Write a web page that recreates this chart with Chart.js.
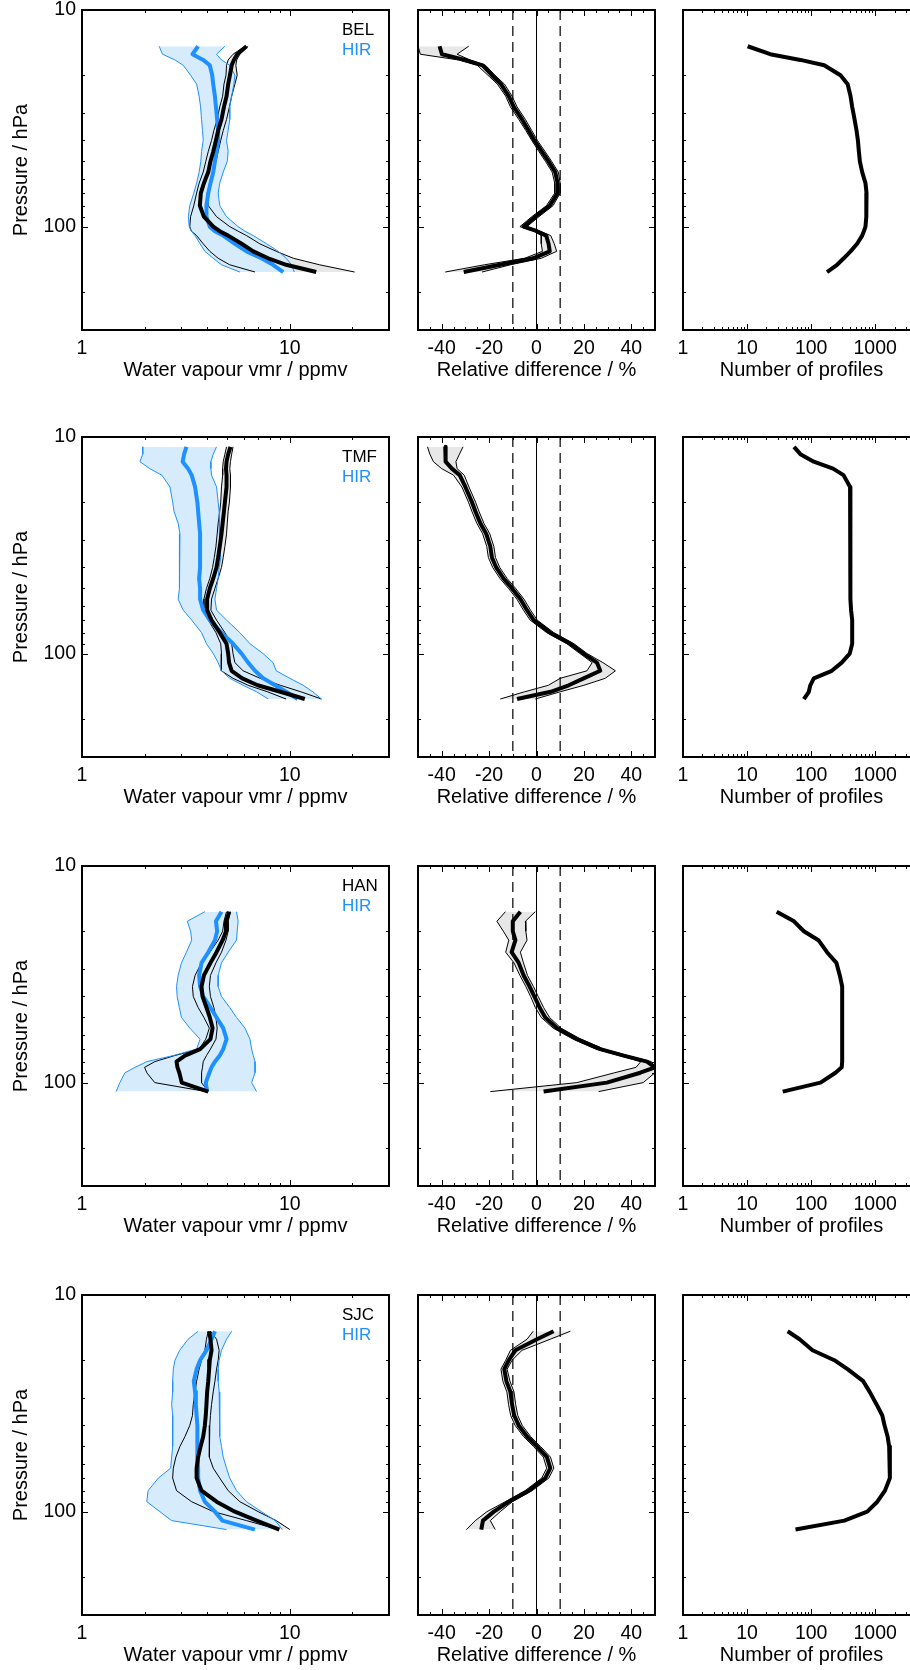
<!DOCTYPE html>
<html lang="en">
<head>
  <meta charset="UTF-8">
  <title>Water vapour profiles: BEL, TMF, HAN, SJC vs HIR</title>
  <script src="https://cdn.jsdelivr.net/npm/chart.js@4.4.1/dist/chart.umd.min.js"></script>
  <style>
    html, body { margin: 0; padding: 0; background: #fff; overflow: hidden; }
    body { width: 910px; height: 1670px; position: relative; }
    canvas { position: absolute; }
  </style>
</head>
<body>
<script>
  // ---- BEL ----
  const belP      = [14.7, 16, 17, 18, 20, 22, 25, 28, 32, 36, 40, 45, 50, 56, 63, 70, 80, 90, 100, 105, 110, 120, 130, 140, 150, 162];
  const belVmr    = [6.19, 5.58, 5.38, 5.25, 5.15, 5.05, 4.96, 4.82, 4.69, 4.52, 4.41, 4.28, 4.15, 4.05, 3.86, 3.73, 3.69, 3.86, 4.28, 4.6, 5.05, 5.86, 6.67, 7.87, 9.6, 13.4];
  const belVmrLo  = [6.08, 5.33, 5.05, 4.96, 4.93, 4.82, 4.75, 4.6, 4.47, 4.31, 4.2, 4.05, 3.94, 3.83, 3.66, 3.56, 3.45, 3.33, 3.3, 3.36, 3.56, 3.83, 4.12, 4.52, 5.14, 6.8];
  const belVmrHi  = [6.3, 5.75, 5.55, 5.5, 5.58, 5.44, 5.25, 5.12, 4.96, 4.78, 4.65, 4.52, 4.41, 4.28, 4.12, 4.0, 4.05, 4.44, 5.14, 5.64, 6.19, 7.17, 8.6, 10.4, 13.9, 20.5];
  const belHir    = [3.62, 3.4, 3.83, 4.12, 4.23, 4.28, 4.36, 4.41, 4.47, 4.52, 4.52, 4.44, 4.36, 4.28, 4.15, 4.05, 3.97, 3.97, 4.12, 4.36, 4.78, 5.44, 6.19, 7.3, 8.3, 9.3];
  const belHirLo  = [2.35, 2.44, 2.8, 3.07, 3.33, 3.56, 3.66, 3.72, 3.76, 3.8, 3.83, 3.76, 3.73, 3.66, 3.56, 3.45, 3.3, 3.25, 3.28, 3.36, 3.5, 3.7, 3.9, 4.28, 4.69, 5.75];
  const belHirHi  = [4.87, 4.44, 4.69, 5.14, 5.44, 5.38, 5.25, 5.14, 5.14, 5.05, 4.96, 5.05, 5.0, 4.78, 4.6, 4.52, 4.6, 4.96, 5.64, 6.08, 6.67, 7.73, 8.8, 9.6, 10.2, 10.5];
  const belDiff   = [-40.9, -39.9, -30.3, -22.7, -18.8, -15, -11.7, -9.6, -6.1, -3.3, -0.9, 2.3, 5.1, 7.9, 8.9, 8.9, 5.6, -0.5, -5.4, 0.2, 4.1, 5.1, 5.6, -1.5, -15.4, -30.7];
  const belDiffLo = [-50, -49, -33, -25, -20.5, -16.5, -13, -11, -7.5, -4.5, -2, 1, 3.8, 6.6, 7.7, 7.7, 4.2, -2, -7, -1, 2, 2, 2.5, -5, -22, -38.5];
  const belDiffHi = [-28.6, -33.5, -28, -21.5, -17.5, -13.5, -10.3, -8.2, -4.7, -2, 0.4, 3.6, 6.4, 9.2, 10, 10, 7, 1, -4, 1.5, 6, 7.5, 8.5, 2, -11, -23];
  const belCount  = [10.2, 23, 68, 160, 287, 372, 412, 437, 476, 511, 537, 556, 576, 626, 705, 732, 732, 720, 705, 665, 626, 522, 412, 323, 254, 177];

  // ---- TMF ----
  const tmfP      = [11.1, 12, 13, 14, 15, 17, 20, 22, 25, 28, 32, 36, 40, 45, 50, 56, 63, 70, 80, 90, 100, 110, 120, 130, 140, 150, 162];
  const tmfVmr    = [5.18, 5.05, 4.96, 4.93, 4.96, 4.96, 4.87, 4.82, 4.75, 4.69, 4.6, 4.52, 4.44, 4.28, 4.12, 4.0, 4.0, 4.2, 4.6, 4.96, 5.05, 5.1, 5.25, 5.9, 7.0, 9.0, 11.8];
  const tmfVmrLo  = [4.96, 4.87, 4.78, 4.75, 4.75, 4.69, 4.65, 4.6, 4.52, 4.47, 4.41, 4.33, 4.25, 4.12, 3.97, 3.86, 3.86, 4.05, 4.41, 4.65, 4.69, 4.67, 4.69, 5.33, 6.3, 7.8, 9.6];
  const tmfVmrHi  = [5.33, 5.25, 5.18, 5.14, 5.18, 5.18, 5.12, 5.05, 5.0, 4.96, 4.87, 4.78, 4.69, 4.52, 4.36, 4.2, 4.17, 4.44, 4.87, 5.25, 5.33, 5.44, 5.96, 7.2, 9.0, 11.3, 14.2];
  const tmfHir    = [3.18, 3.1, 3.05, 3.24, 3.37, 3.5, 3.59, 3.62, 3.66, 3.7, 3.7, 3.7, 3.7, 3.66, 3.7, 3.7, 3.83, 4.12, 4.69, 5.33, 5.86, 6.3, 6.8, 7.44, 8.5, 9.6, 10.9];
  const tmfHirLo  = [1.96, 1.96, 1.9, 2.12, 2.42, 2.65, 2.73, 2.77, 2.9, 2.96, 2.94, 2.94, 2.94, 2.96, 2.94, 2.9, 3.07, 3.37, 3.76, 3.97, 4.28, 4.52, 4.69, 5.14, 5.96, 6.92, 7.87];
  const tmfHirHi  = [4.44, 4.28, 4.17, 4.17, 4.2, 4.44, 4.52, 4.57, 4.6, 4.57, 4.6, 4.65, 4.57, 4.52, 4.44, 4.36, 4.44, 4.96, 5.75, 6.43, 7.44, 8.3, 8.6, 10.0, 11.6, 12.9, 14.2];
  const tmfDiff   = [-38.5, -38.5, -38.2, -35.7, -32.4, -30, -27.2, -25.8, -23.7, -21.2, -19.5, -18.8, -17, -13.9, -10.3, -6.8, -4, -1.2, 5.8, 14.3, 19.9, 25.5, 26.9, 19.9, 13.6, 6, -8.2];
  const tmfDiffLo = [-46, -45, -43.5, -40, -35, -31.5, -28.7, -27.3, -25.2, -22.7, -21, -20.3, -18.5, -15.4, -11.8, -8.3, -5.5, -2.7, 4.3, 12.8, 18.4, 23.5, 21.3, 10, 5, -5, -15.3];
  const tmfDiffHi = [-31, -32.5, -34, -33.5, -30.5, -28.5, -25.7, -24.3, -22.2, -19.7, -18, -17.3, -15.5, -12.4, -8.8, -5.3, -2.5, 0.3, 7.3, 15.8, 21.4, 28, 33.3, 29, 20, 10, -0.5];
  const tmfCount  = [54, 68, 110, 220, 320, 405, 410, 410, 410, 410, 410, 410, 410, 410, 410, 410, 420, 437, 437, 437, 400, 300, 210, 110, 97, 92, 77];

  // ---- HAN ----
  const hanP      = [16.25, 18, 20, 22, 25, 28, 32, 36, 40, 45, 50, 56, 63, 70, 75, 80, 85, 90, 100, 110];
  const hanVmr    = [5.11, 4.93, 4.93, 4.75, 4.44, 4.15, 3.86, 3.76, 3.8, 3.97, 4.12, 4.25, 4.15, 3.7, 3.13, 2.85, 2.88, 2.94, 3.02, 4.05];
  const hanVmrLo  = [4.96, 4.82, 4.75, 4.52, 4.12, 3.76, 3.5, 3.4, 3.43, 3.62, 3.86, 4.1, 3.94, 3.66, 2.79, 2.24, 2.0, 2.05, 2.24, 3.97];
  const hanVmrHi  = [5.18, 5.05, 5.05, 4.93, 4.69, 4.41, 4.15, 4.1, 4.15, 4.31, 4.41, 4.47, 4.41, 4.15, 3.97, 3.83, 3.8, 3.76, 3.76, 4.05];
  const hanHir    = [4.69, 4.41, 4.47, 4.36, 4.05, 3.76, 3.66, 3.7, 3.83, 4.15, 4.44, 4.78, 4.96, 4.78, 4.6, 4.36, 4.2, 4.1, 3.94, 4.0];
  const hanHirLo  = [3.9, 3.21, 3.33, 3.37, 3.18, 3.01, 2.9, 2.85, 2.87, 2.94, 3.01, 3.3, 3.7, 3.56, 2.75, 2.05, 1.8, 1.61, 1.52, 1.46];
  const hanHirHi  = [5.54, 5.64, 5.58, 5.54, 5.05, 4.69, 4.52, 4.52, 4.69, 5.14, 5.54, 6.08, 6.43, 6.55, 6.67, 6.8, 6.8, 6.8, 6.55, 6.92];
  const hanDiff   = [-6.8, -10, -10, -8.9, -10.5, -7.5, -5.4, -2.9, -0.9, 1.3, 3.7, 8.6, 17.1, 26.9, 36.8, 46.6, 50, 43.8, 29.7, 3];
  const hanDiffLo = [-13.1, -16.7, -14, -11.7, -13, -9.5, -7, -4.5, -2.5, -0.5, 2, 7, 15.5, 25, 35, 44, 42, 33, 17, -19.5];
  const hanDiffHi = [-0.5, -4.7, -4.5, -4, -6.8, -5.5, -3.8, -1.3, 0.7, 3, 5.5, 10.3, 18.7, 28.5, 38.5, 48.5, 50, 50, 45, 26.2];
  const hanCount  = [29, 54, 77, 130, 177, 248, 280, 305, 305, 305, 305, 305, 305, 305, 305, 305, 300, 240, 140, 36];

  // ---- SJC ----
  const sjcP      = [14.7, 16, 18, 20, 22, 25, 28, 32, 36, 40, 45, 50, 56, 63, 70, 80, 90, 100, 110, 121];
  const sjcVmr    = [4.09, 4.15, 4.2, 4.12, 4.09, 4.05, 4.0, 3.97, 3.94, 3.9, 3.83, 3.72, 3.62, 3.56, 3.56, 3.76, 4.44, 5.44, 6.92, 8.9];
  const sjcVmrLo  = [4.05, 3.97, 3.9, 3.76, 3.66, 3.56, 3.5, 3.43, 3.4, 3.3, 3.13, 2.96, 2.83, 2.75, 2.73, 2.85, 3.37, 4.28, 6.19, 8.8];
  const sjcVmrHi  = [4.15, 4.44, 4.57, 4.52, 4.44, 4.36, 4.28, 4.2, 4.15, 4.12, 4.09, 4.09, 4.12, 4.28, 4.6, 5.05, 5.75, 7.04, 8.6, 10];
  const sjcHir    = [4.36, 4.2, 3.97, 3.7, 3.56, 3.45, 3.5, 3.53, 3.56, 3.59, 3.59, 3.59, 3.59, 3.62, 3.62, 3.7, 3.9, 4.36, 4.74, 6.79];
  const sjcHirLo  = [3.62, 3.24, 2.95, 2.8, 2.75, 2.73, 2.73, 2.7, 2.73, 2.73, 2.73, 2.73, 2.7, 2.67, 2.33, 2.08, 2.05, 2.37, 2.7, 4.96];
  const sjcHirHi  = [5.25, 4.96, 4.69, 4.57, 4.52, 4.52, 4.57, 4.6, 4.6, 4.6, 4.6, 4.69, 4.78, 4.96, 5.14, 5.54, 6.19, 7.3, 8.5, 9.2];
  const sjcDiff   = [7.2, 0.2, -8.9, -11.7, -13.6, -12.7, -11, -10.3, -9.4, -7.5, -4, 0.2, 4.4, 5.8, 3.7, -3.3, -11.7, -18, -22.6, -23.3];
  const sjcDiffLo = [-1.4, -4, -11, -13, -15, -14.2, -12.5, -11.8, -10.9, -9, -5.5, -1.3, 2.9, 4.3, 2.2, -4.8, -13.2, -20.9, -25.8, -29.6];
  const sjcDiffHi = [14.3, 5.8, -6.1, -10.3, -12.4, -11.2, -9.5, -8.8, -7.9, -6, -2.5, 1.7, 5.9, 7.3, 5.2, -1.8, -10.2, -15.3, -19.5, -17.4];
  const sjcCount  = [43, 66, 105, 230, 370, 650, 820, 1050, 1290, 1400, 1560, 1650, 1690, 1700, 1690, 1420, 1080, 750, 330, 57];

  // axis ranges and labels
  const pRange = [10, 300];
  const pLabels = [10, 100];
  const vmrRange = [1, 30];
  const vmrLabels = [1, 10];
  const diffRange = [-50, 50];
  const diffLabels = [-40, -20, 0, 20, 40];
  const diffRefs = [-10, 0, 10];
  const countRange = [1, 5000];
  const countLabels = [1, 10, 100, 1000];

  const stations = [
    { name: 'BEL', p: belP, vmr: belVmr, lo: belVmrLo, hi: belVmrHi, hir: belHir, hirLo: belHirLo, hirHi: belHirHi, diff: belDiff, diffLo: belDiffLo, diffHi: belDiffHi, n: belCount },
    { name: 'TMF', p: tmfP, vmr: tmfVmr, lo: tmfVmrLo, hi: tmfVmrHi, hir: tmfHir, hirLo: tmfHirLo, hirHi: tmfHirHi, diff: tmfDiff, diffLo: tmfDiffLo, diffHi: tmfDiffHi, n: tmfCount },
    { name: 'HAN', p: hanP, vmr: hanVmr, lo: hanVmrLo, hi: hanVmrHi, hir: hanHir, hirLo: hanHirLo, hirHi: hanHirHi, diff: hanDiff, diffLo: hanDiffLo, diffHi: hanDiffHi, n: hanCount },
    { name: 'SJC', p: sjcP, vmr: sjcVmr, lo: sjcVmrLo, hi: sjcVmrHi, hir: sjcHir, hirLo: sjcHirLo, hirHi: sjcHirHi, diff: sjcDiff, diffLo: sjcDiffLo, diffHi: sjcDiffHi, n: sjcCount }
  ];

  const BLUE = 'rgb(30,144,255)';
  const BLUE_FILL = 'rgb(214,236,252)';
  const GREY_FILL = 'rgb(231,231,231)';
  const rowTops = [10, 437, 866, 1295];
  const PLOT_H = 320;

  Chart.defaults.font.family = "'Liberation Sans', Arial, Helvetica, sans-serif";
  Chart.defaults.color = '#000';

  // tick mark positions (decoration only)
  function logTicks(lo, hi) {
    const out = [];
    for (let d = 1; d <= hi; d *= 10)
      for (let k = 1; k <= 9; k++) {
        const v = k * d;
        if (v >= lo && v <= hi) out.push({ v, major: k === 1 });
      }
    return out;
  }
  const diffTicks = [];
  for (let v = -50; v <= 50; v += 5) diffTicks.push({ v, major: v % 20 === 0 });

  // box, inward ticks and the little station legend
  const frame = {
    id: 'frame',
    afterDatasetsDraw(chart, args, opts) {
      const { ctx, chartArea: a, scales: { x, y } } = chart;
      ctx.save();
      ctx.strokeStyle = '#000';
      ctx.lineWidth = 1;
      ctx.beginPath();
      for (const t of opts.xTicks) {
        const px = Math.round(x.getPixelForValue(t.v)) + 0.5;
        const len = t.major ? 6 : 3;
        ctx.moveTo(px, a.bottom); ctx.lineTo(px, a.bottom - len);
        ctx.moveTo(px, a.top); ctx.lineTo(px, a.top + len);
      }
      for (const t of opts.yTicks) {
        const py = Math.round(y.getPixelForValue(t.v)) + 0.5;
        const len = t.major ? 6 : 3;
        ctx.moveTo(a.left, py); ctx.lineTo(a.left + len, py);
        ctx.moveTo(a.right, py); ctx.lineTo(a.right - len, py);
      }
      ctx.stroke();
      ctx.lineWidth = 2;
      ctx.strokeRect(a.left, a.top, a.right - a.left, a.bottom - a.top);
      if (opts.legend) {
        ctx.font = "17px 'Liberation Sans', Arial, sans-serif";
        ctx.textBaseline = 'middle';
        ctx.textAlign = 'left';
        ctx.fillStyle = '#000';
        ctx.fillText(opts.legend[0], a.right - 47, a.top + 20);
        ctx.fillStyle = BLUE;
        ctx.fillText(opts.legend[1], a.right - 47, a.top + 40);
      }
      ctx.restore();
    }
  };

  const pts = (xs, ps) => xs.map((v, i) => ({ x: v, y: ps[i] }));
  const line = (data, color, width, extra) =>
    Object.assign({ data, borderColor: color, borderWidth: width, fill: false, borderJoinStyle: 'round' }, extra || {});

  function addPanel(o) {
    const cv = document.createElement('canvas');
    cv.width = o.width;
    cv.height = 10 + PLOT_H + 60;
    cv.style.left = o.left + 'px';
    cv.style.top = (o.top - 10) + 'px';
    document.body.appendChild(cv);

    const xScale = {
      type: o.xType, min: o.xRange[0], max: o.xRange[1], position: 'bottom',
      grid: { display: false, drawTicks: false }, border: { display: false },
      ticks: { padding: 7, font: { size: 19.5 }, autoSkip: false, maxRotation: 0, minRotation: 0, callback: v => String(v) },
      afterBuildTicks: s => { s.ticks = o.xLabels.map(v => ({ value: v })); },
      afterFit: s => { s.height = 60; s.paddingLeft = 0; s.paddingRight = 0; },
      title: { display: true, text: o.xTitle, font: { size: 20 }, padding: { top: 0, bottom: 8 } }
    };
    const yScale = {
      type: 'logarithmic', reverse: true, min: pRange[0], max: pRange[1], position: 'left',
      grid: { display: false, drawTicks: false }, border: { display: false },
      ticks: { display: o.yLabels, padding: 6, font: { size: 19.5 }, autoSkip: false, callback: v => String(v) },
      afterBuildTicks: s => { s.ticks = pLabels.map(v => ({ value: v })); },
      afterFit: s => { s.width = o.yWidth; s.paddingTop = 0; s.paddingBottom = 0; },
      title: { display: o.yLabels, text: 'Pressure / hPa', font: { size: 20 }, padding: { top: 9, bottom: 0 } }
    };

    return new Chart(cv, {
      type: 'line',
      data: { datasets: o.datasets },
      options: {
        indexAxis: 'y',
        responsive: false,
        animation: false,
        devicePixelRatio: 1,
        layout: { padding: { top: 10, left: 0, right: o.padRight, bottom: 0 } },
        elements: { point: { radius: 0, hoverRadius: 0 }, line: { tension: 0 } },
        plugins: {
          legend: { display: false },
          tooltip: { enabled: false },
          filler: { drawTime: 'beforeDatasetsDraw' },
          frame: { xTicks: o.xTicks, yTicks: logTicks(pRange[0], pRange[1]), legend: o.legend }
        },
        scales: { x: xScale, y: yScale }
      },
      plugins: [frame]
    });
  }

  stations.forEach((s, r) => {
    const top = rowTops[r];

    // water vapour profiles
    addPanel({
      left: 0, top, width: 393, yWidth: 82, padRight: 4, yLabels: true,
      xType: 'logarithmic', xRange: vmrRange, xLabels: vmrLabels, xTicks: logTicks(vmrRange[0], vmrRange[1]),
      xTitle: 'Water vapour vmr / ppmv', legend: [s.name, 'HIR'],
      datasets: [
        line(pts(s.vmr, s.p), '#000', 4),
        line(pts(s.hir, s.p), BLUE, 4),
        line(pts(s.hirLo, s.p), BLUE, 1, { fill: '+1', backgroundColor: BLUE_FILL }),
        line(pts(s.hirHi, s.p), BLUE, 1),
        line(pts(s.lo, s.p), '#000', 1, { fill: '+1', backgroundColor: GREY_FILL }),
        line(pts(s.hi, s.p), '#000', 1)
      ]
    });

    // relative difference
    const refs = diffRefs.map(v => line(pts([v, v], pRange), v === 0 ? '#000' : '#333', v === 0 ? 1 : 1.5,
      { borderDash: v === 0 ? [] : [10, 6] }));
    addPanel({
      left: 400, top, width: 260, yWidth: 18, padRight: 5, yLabels: false,
      xType: 'linear', xRange: diffRange, xLabels: diffLabels, xTicks: diffTicks,
      xTitle: 'Relative difference / %',
      datasets: [
        line(pts(s.diff, s.p), '#000', 4),
        line(pts(s.diffLo, s.p), '#000', 1, { fill: '+1', backgroundColor: GREY_FILL }),
        line(pts(s.diffHi, s.p), '#000', 1)
      ].concat(refs)
    });

    // number of profiles
    addPanel({
      left: 670, top, width: 255, yWidth: 13, padRight: 5, yLabels: false,
      xType: 'logarithmic', xRange: countRange, xLabels: countLabels, xTicks: logTicks(countRange[0], countRange[1]),
      xTitle: 'Number of profiles',
      datasets: [line(pts(s.n, s.p), '#000', 4)]
    });
  });
</script>
</body>
</html>
